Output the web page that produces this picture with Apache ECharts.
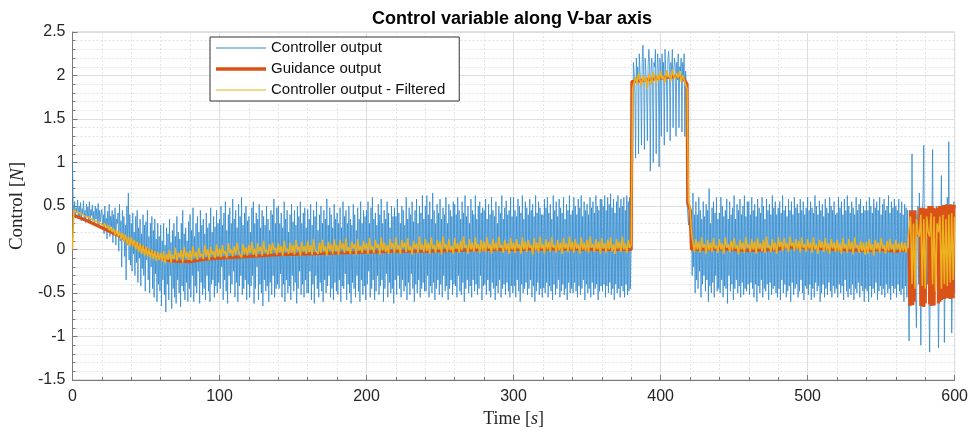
<!DOCTYPE html>
<html>
<head>
<meta charset="utf-8">
<script src="https://cdn.jsdelivr.net/npm/echarts@6/dist/echarts.min.js"></script>
<style>html,body{margin:0;padding:0;background:#fff;}#c{width:971px;height:437px;}</style>
</head>
<body>
<div id="c"></div>
<script>
// ---- data ----
const seriesNames = ['Controller output', 'Guidance output', 'Controller output - Filtered'];
const xTicks = [0, 100, 200, 300, 400, 500, 600];
const yTicks = [-1.5, -1, -0.5, 0, 0.5, 1, 1.5, 2, 2.5];

// Controller output in hundredths of N, sampled every 0.5 s from t = 0 (one row = 20 s)
const controllerStep = 0.5;
const controllerOutputCenti = [
100,52,40,55,36,48,42,57,35,50,38,54,33,47,40,56,36,45,31,52,38,49,34,55,30,46,39,51,33,44,28,50,35,47,30,53,27,45,32,41,
46,24,40,18,50,28,36,12,44,22,52,15,38,26,45,8,40,20,48,5,35,30,42,-2,52,10,33,-20,45,15,38,-8,28,-35,50,5,65,-12,40,-18,
30,-25,42,-5,20,-30,38,-15,45,-38,25,-10,35,-42,18,-22,40,-30,28,-48,32,-12,45,-35,15,-50,30,-20,38,-45,22,-55,35,-28,12,-60,30,-40,15,-48,
28,-65,10,-35,30,-52,5,-72,25,-40,18,-58,35,-30,8,-68,22,-45,30,-55,15,-62,38,-35,20,-50,12,-66,30,-42,45,-48,18,-58,25,-38,10,-60,32,-45,
40,-55,22,-30,48,-60,15,-42,30,-50,38,-25,20,-62,45,-38,28,-52,35,-45,18,-58,42,-30,25,-48,30,-60,48,-40,20,-35,38,-55,26,-42,45,-50,30,-38,
35,-45,50,-20,28,-58,42,-35,55,-48,22,-62,40,-30,48,-50,30,-40,58,-25,35,-55,45,-38,25,-60,52,-42,38,-30,60,-52,28,-45,42,-35,50,-58,33,-40,
38,-55,20,-42,48,-30,55,-62,30,-45,42,-20,35,-58,52,-40,25,-50,45,-65,38,-35,28,-48,50,-42,35,-60,22,-38,45,-52,40,-30,58,-55,30,-45,48,-40,
50,-45,30,-28,42,-55,25,-40,55,-60,35,-35,45,-50,20,-42,40,-58,52,-30,32,-48,45,-38,28,-62,50,-45,38,-25,55,-52,30,-40,42,-55,48,-35,25,-50,
46,-50,35,-25,52,-58,28,-40,45,-62,38,-30,55,-45,22,-55,40,-38,50,-48,30,-60,45,-35,35,-50,58,-42,28,-30,48,-55,40,-45,25,-58,52,-38,35,-48,
42,-52,30,-35,48,-60,25,-42,55,-45,38,-28,45,-58,30,-40,50,-50,35,-62,28,-38,52,-45,40,-55,22,-30,48,-48,35,-60,55,-35,30,-52,45,-42,38,-58,
45,-40,55,-25,30,-55,48,-45,60,-35,35,-58,42,-48,28,-30,52,-52,40,-42,58,-35,30,-60,45,-45,35,-28,55,-55,42,-38,25,-50,50,-45,38,-62,48,-35,
38,-52,58,-30,42,-45,30,-55,50,-35,45,-48,28,-42,60,-58,35,-38,48,-52,40,-28,55,-45,32,-60,45,-40,58,-50,30,-35,50,-55,42,-45,62,-38,35,-48,
50,-48,62,-30,40,-55,55,-42,35,-50,65,-38,45,-58,30,-45,52,-35,42,-52,58,-40,35,-55,48,-30,40,-48,60,-42,30,-58,52,-45,45,-35,38,-52,55,-40,
52,-42,40,-55,60,-30,45,-48,35,-52,55,-38,42,-60,62,-45,38,-35,50,-50,30,-42,58,-55,45,-35,40,-48,62,-40,35,-52,50,-45,55,-30,42,-58,48,-42,
45,-40,58,-52,35,-35,52,-48,40,-55,60,-38,45,-45,38,-58,55,-42,30,-50,50,-35,42,-55,62,-45,35,-40,48,-52,56,-38,40,-48,45,-55,60,-42,38,-50,
60,-42,45,-55,38,-35,58,-48,50,-60,42,-40,62,-50,35,-45,55,-38,48,-52,40,-45,58,-35,45,-55,52,-42,38,-60,62,-48,42,-38,55,-52,48,-45,40,-55,
40,-44,58,-50,48,-38,60,-55,42,-42,52,-48,35,-58,62,-40,45,-52,55,-45,38,-35,58,-55,48,-48,42,-40,60,-52,35,-45,52,-58,45,-38,62,-50,40,-45,
45,-50,60,-38,50,-48,40,-55,58,-42,48,-52,62,-45,38,-35,55,-58,45,-40,52,-50,40,-45,60,-55,48,-38,55,-52,42,-45,62,-40,50,-58,45,-48,58,-42,
58,-48,50,-40,62,-55,45,-42,60,-50,52,-38,64,-52,48,-45,58,-58,42,-40,55,-50,62,-45,48,-55,58,-42,50,-48,60,-55,45,-40,62,-52,55,-48,60,-45,
10,190,100,215,205,180,105,220,195,210,110,225,205,190,120,215,235,200,115,220,205,185,125,210,230,215,90,205,220,195,100,215,210,230,110,200,225,205,95,220,
210,130,225,200,215,120,230,205,195,135,220,228,210,125,215,200,230,140,205,220,210,130,215,195,225,140,210,205,220,135,215,200,225,130,205,190,55,40,28,50,
50,30,45,-30,65,-20,40,-50,55,-35,40,-45,60,-25,45,-55,35,-40,55,-30,38,-48,52,-35,45,-60,70,-42,30,-50,48,-38,55,-55,42,-30,60,-48,35,-45,
42,-50,60,-35,50,-55,38,-42,45,-45,58,-62,35,-30,55,-48,40,-40,48,-58,62,-45,35,-35,52,-50,45,-42,58,-55,40,-38,50,-52,62,-45,38,-48,55,-40,
55,-52,40,-38,60,-45,45,-55,52,-40,38,-60,58,-42,48,-50,42,-35,60,-55,50,-45,35,-48,58,-40,45,-58,52,-38,40,-52,62,-45,48,-42,55,-50,40,-55,
48,-45,55,-58,42,-35,62,-50,45,-40,50,-55,38,-48,58,-42,45,-60,55,-38,40,-52,60,-45,48,-40,52,-55,42,-48,58,-35,45,-50,55,-58,40,-42,48,-45,
60,-52,45,-40,55,-58,48,-45,42,-55,62,-38,50,-48,40,-42,56,-60,45,-50,52,-40,38,-55,58,-45,48,-52,42,-38,60,-48,50,-55,45,-42,55,-50,40,-45,
42,-55,60,-40,48,-50,55,-42,40,-58,58,-35,45,-48,62,-55,50,-45,42,-52,55,-40,48,-58,40,-45,60,-50,45,-38,52,-55,58,-42,42,-48,50,-60,45,-45,
55,-48,45,-60,60,-42,50,-55,42,-45,58,-50,48,-38,55,-58,45,-48,60,-42,40,-52,52,-45,58,-55,45,-40,50,-50,62,-45,42,-58,55,-42,48,-50,58,-45,
50,-55,45,-40,58,-48,42,-52,55,-45,40,-60,52,-42,48,-55,45,-50,-105,-30,40,-45,110,-20,-60,30,35,-55,-90,20,50,-40,65,-30,-110,-20,40,60,120,-10,
-60,45,20,-40,30,-60,-118,-20,50,30,115,-30,-65,40,-30,50,45,-20,-113,-40,50,30,85,-20,-55,40,-107,-30,48,20,60,-40,124,-20,-50,30,-96,-40,45,55,
-50
];

// Guidance output as [time s, value N] pairs
const guidanceOutput = [
[0,0.4],[10,0.33],[20,0.25],[30,0.17],[40,0.08],[50,0.0],[60,-0.09],[66,-0.13],[80,-0.14],[90,-0.11],
[100,-0.1],[120,-0.08],[140,-0.06],[160,-0.05],[180,-0.04],[200,-0.03],[220,-0.02],[240,-0.02],[260,-0.01],[280,0.0],
[300,0.0],[330,0.01],[360,0.0],[380,0.0],[380.5,1.93],[390,1.95],[400,1.97],[410,1.99],[415,1.98],[418,1.9],
[418.5,0.53],[420,0.46],[421,0.0],[440,0.01],[460,-0.01],[480,0.0],[483,0.03],[500,0.02],[520,0.0],[540,-0.01],
[549,0.0],[560,-0.02],[569,0.0],
[569.5,-0.65],[570,0.45],[570.5,-0.62],[571,0.44],[571.5,-0.64],[572,0.45],[572.5,-0.6],[573,0.45],[573.5,0.18],[575,0.17],
[576,0.2],[576.5,0.48],[577,-0.65],[577.5,0.47],[578,-0.63],[578.5,0.48],[579,-0.66],[579.5,0.46],[580,-0.62],[580.5,0.47],
[581,0.2],[582,0.16],[582.5,0.5],[583,-0.63],[583.5,0.49],[584,-0.65],[584.5,0.5],[585,-0.6],[585.5,0.48],[586,-0.64],
[586.5,0.47],[587,0.18],[588,0.15],[588.5,0.48],[589,-0.62],[589.5,0.5],[590,-0.6],[590.5,0.49],[591,-0.58],[591.5,0.5],
[592,-0.55],[592.5,0.51],[593,-0.57],[593.5,0.5],[594,-0.55],[594.5,0.52],[595,-0.56],[595.5,0.5],[596,-0.55],[596.5,0.51],
[597,-0.57],[597.5,0.52],[598,-0.55],[598.5,0.5],[599,-0.56],[599.5,0.51],[600,0.48]
];

// Filtered controller output in hundredths of N, sampled every 1 s from t = 0 (one row = 20 s)
const filteredStep = 1;
const filteredOutputCenti = [
0,45,46,43,44,42,43,40,41,38,39,37,38,35,36,33,35,32,33,30,
31,27,30,25,28,22,26,20,24,17,22,15,21,12,19,9,17,6,15,4,
14,4,11,0,9,-3,7,-5,5,-7,3,-8,1,-10,0,-11,-2,-13,-3,-12,
-4,-14,-2,-16,-5,-12,0,-15,-6,-11,2,-13,-4,-9,-1,-15,3,-10,-3,-12,
-1,-13,4,-9,-3,-12,2,-8,-5,-11,5,-7,0,-12,3,-6,-2,-10,6,-8,
1,-9,5,-5,-2,-10,7,-4,0,-8,4,-6,8,-3,-1,-9,6,-5,2,-7,
5,-4,9,-6,1,-8,7,-2,3,-7,10,-3,0,-6,6,-5,8,-1,2,-6,
7,-3,4,-7,10,-2,1,-5,8,-4,5,-6,11,-1,3,-7,9,-2,4,-5,
10,-3,5,-6,12,0,2,-5,8,-4,11,-2,4,-7,9,-1,6,-5,12,-2,
5,-6,11,0,7,-4,13,-2,3,-5,9,1,6,-6,12,-1,4,-4,10,0,
7,-5,13,0,4,-4,11,2,6,-6,14,-1,8,-3,5,-5,12,1,7,-4,
14,0,5,-5,11,2,8,-3,13,-1,4,-6,10,1,7,-4,15,0,6,-3,
12,-2,8,-5,14,1,5,-4,11,0,9,-6,15,2,6,-3,12,-1,4,-5,
13,1,7,-4,10,-1,15,2,5,-5,12,0,8,-3,14,1,6,-4,11,-2,
9,-3,14,1,6,-5,12,0,8,-2,15,2,5,-4,11,-1,7,-5,13,0,
8,-4,12,1,6,-5,14,0,9,-3,11,2,5,-6,13,-1,8,-4,15,1,
6,-5,12,0,9,-3,14,2,5,-4,11,-1,8,-5,13,1,7,-3,15,0,
9,-4,12,1,6,-5,14,0,8,-2,11,-4,15,2,6,-3,12,0,9,-5,
13,1,7,-4,11,0,14,-2,6,-5,12,1,9,-3,15,0,7,-4,11,2,
5,185,192,198,190,203,195,188,200,193,198,185,202,196,190,204,197,192,201,194,
205,196,199,192,206,198,201,194,207,199,196,203,197,205,193,200,195,190,185,55,
48,20,8,-3,12,0,9,-4,14,2,6,-5,11,-1,8,-3,13,1,5,-4,
12,0,7,-5,14,2,6,-3,10,-1,13,1,5,-6,11,0,8,-4,14,2,
6,-3,12,0,9,-5,13,1,7,-2,11,-4,15,2,5,-3,12,-1,8,-5,
14,3,9,-2,13,1,7,-3,15,4,8,-2,12,0,10,-4,14,2,6,-3,
12,1,8,-4,14,0,6,-5,11,2,9,-3,13,-1,7,-5,12,1,8,-3,
11,-2,7,-5,13,1,6,-4,12,0,9,-6,14,2,5,-4,10,-2,8,-6,
9,-5,12,-1,6,-7,11,0,8,-4,13,1,5,-5,10,-2,12,0,6,-4,
11,0,7,-3,9,-2,8,-4,6,25,38,-40,30,-45,35,18,15,40,-42,35,
-45,38,20,15,42,-40,38,-48,30,20,38,-45,40,-40,35,-42,40,-38,42,-35,
38
];

// ---- chart ----
const chart = echarts.init(document.getElementById('c'), null, {renderer: 'canvas'});
const axisColor = '#7a7a7a';
const textColor = '#262626';
const sans = 'Liberation Sans, Arial, sans-serif';
const serif = 'Liberation Serif, Times New Roman, serif';
const thinIcon = 'path://M0,0H50V1.2H0Z';
const thickIcon = 'path://M0,0H50V3.5H0Z';

const option = {
  animation: false,
  backgroundColor: '#ffffff',
  title: {
    text: 'Control variable along V-bar axis',
    left: 367, top: 5,
    textStyle: {fontFamily: sans, fontSize: 18, fontWeight: 'bold', color: '#000'}
  },
  legend: {
    data: [
      {name: seriesNames[0], icon: thinIcon},
      {name: seriesNames[1], icon: thickIcon},
      {name: seriesNames[2], icon: thinIcon}
    ],
    orient: 'vertical',
    left: 210, top: 37,
    padding: [3, 14, 3, 6],
    itemGap: 5,
    itemWidth: 50, itemHeight: 14,
    symbolKeepAspect: true,
    backgroundColor: '#ffffff',
    borderColor: '#333333', borderWidth: 1, borderRadius: 0,
    textStyle: {fontFamily: sans, fontSize: 15, color: '#111', lineHeight: 16}
  },
  grid: {
    left: 71, top: 32, width: 884, height: 348,
    show: true, borderColor: '#c4c4c4', borderWidth: 1, backgroundColor: '#ffffff'
  },
  xAxis: {
    type: 'value', min: xTicks[0], max: xTicks[xTicks.length - 1], interval: 100,
    name: 'Time [{i|s}]', nameLocation: 'middle', nameGap: 22,
    nameTextStyle: {fontFamily: serif, fontSize: 18, color: textColor,
      rich: {i: {fontFamily: serif, fontSize: 18, fontStyle: 'italic', color: textColor}}},
    axisLine: {show: true, onZero: false, lineStyle: {color: axisColor, width: 1}},
    axisTick: {show: true, inside: true, length: 5, lineStyle: {color: axisColor}},
    minorTick: {show: true, splitNumber: 5, length: 3, lineStyle: {color: axisColor}},
    axisLabel: {fontFamily: sans, fontSize: 16, color: textColor, margin: 9},
    splitLine: {show: true, lineStyle: {color: '#dedede', width: 1}},
    minorSplitLine: {show: true, lineStyle: {color: '#e4e4e4', width: 1, type: [2, 2]}}
  },
  yAxis: {
    type: 'value', min: yTicks[0], max: yTicks[yTicks.length - 1], interval: 0.5,
    name: 'Control [{i|N}]', nameLocation: 'middle', nameGap: 37,
    nameTextStyle: {fontFamily: serif, fontSize: 19, color: textColor,
      rich: {i: {fontFamily: serif, fontSize: 19, fontStyle: 'italic', color: textColor}}},
    axisLine: {show: true, onZero: false, lineStyle: {color: axisColor, width: 1}},
    axisTick: {show: true, inside: true, length: 5, lineStyle: {color: axisColor}},
    minorTick: {show: true, splitNumber: 5, length: 3, lineStyle: {color: axisColor}},
    axisLabel: {fontFamily: sans, fontSize: 16, color: textColor, margin: 7},
    splitLine: {show: true, lineStyle: {color: '#dedede', width: 1}},
    minorSplitLine: {show: true, lineStyle: {color: '#e4e4e4', width: 1, type: [2, 2]}}
  },
  series: [
    {
      name: seriesNames[0], type: 'line', symbol: 'none', z: 2,
      data: controllerOutputCenti.map((v, i) => [i * controllerStep, v / 100]),
      lineStyle: {color: '#2b87cd', width: 0.9, opacity: 0.85},
      itemStyle: {color: '#2b87cd'}
    },
    {
      name: seriesNames[1], type: 'line', symbol: 'none', z: 3,
      data: guidanceOutput,
      lineStyle: {color: '#D95319', width: 3.2},
      itemStyle: {color: '#D95319'}
    },
    {
      name: seriesNames[2], type: 'line', symbol: 'none', z: 4,
      data: filteredOutputCenti.map((v, i) => [i * filteredStep, v / 100]),
      lineStyle: {color: '#EDB120', width: 1.5},
      itemStyle: {color: '#EDB120'}
    }
  ]
};
chart.setOption(option);
</script>
</body>
</html>
